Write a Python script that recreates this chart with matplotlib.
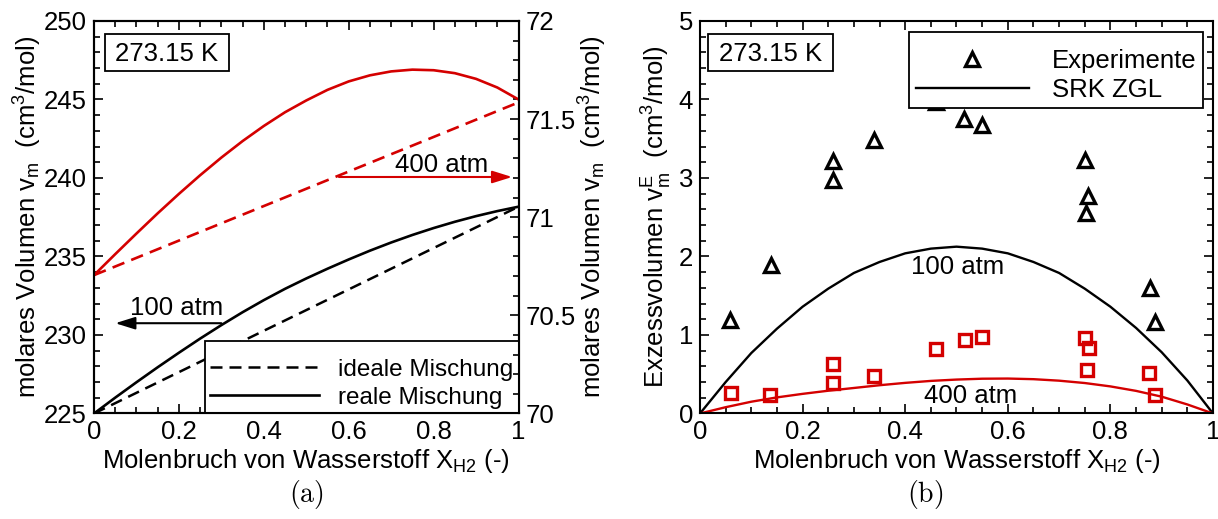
import numpy as np
import matplotlib.pyplot as plt
from matplotlib.ticker import MultipleLocator, FuncFormatter
from matplotlib.patches import Rectangle

plt.rcParams['font.family'] = ['Liberation Sans', 'DejaVu Sans']
plt.rcParams['mathtext.fontset'] = 'custom'
plt.rcParams['mathtext.rm'] = 'Liberation Sans'
plt.rcParams['mathtext.it'] = 'Liberation Sans:italic'
plt.rcParams['font.size'] = 18.5

RED = '#d40000'

# -----------------------------
# Data
# -----------------------------
x_grid = [0, 0.05, 0.1, 0.15, 0.2, 0.25, 0.3, 0.35, 0.4, 0.45, 0.5,
          0.55, 0.6, 0.65, 0.7, 0.75, 0.8, 0.85, 0.9, 0.95, 1.0]

# (a) molar volume, 100 atm (left axis)
x_ideal = [0, 1]
v_ideal_100 = [225.0, 238.17]
v_real_100 = [225.0, 226.01, 226.99, 227.945, 228.87, 229.77, 230.63, 231.45, 232.22, 232.94, 233.60,
              234.22, 234.81, 235.37, 235.89, 236.37, 236.81, 237.21, 237.57, 237.89, 238.17]

# (a) molar volume, 400 atm (right axis)
v_ideal_400 = [70.705, 71.585]
v_real_400 = [70.705, 70.812, 70.917, 71.02, 71.119, 71.214, 71.304, 71.388, 71.465, 71.535, 71.595,
              71.649, 71.692, 71.723, 71.743, 71.752, 71.749, 71.734, 71.705, 71.661, 71.60]

# (b) excess volume, SRK
vE_100 = [0, 0.40, 0.77, 1.08, 1.36, 1.59, 1.79, 1.93, 2.04, 2.10, 2.125,
          2.10, 2.04, 1.93, 1.79, 1.59, 1.36, 1.09, 0.78, 0.42, 0]
vE_400 = [0, 0.08, 0.15, 0.205, 0.25, 0.29, 0.325, 0.36, 0.39, 0.415, 0.432,
          0.443, 0.445, 0.437, 0.418, 0.388, 0.345, 0.288, 0.214, 0.115, 0]

# (b) experiments
exp_x_100 = [0.058, 0.139, 0.259, 0.259, 0.34, 0.46, 0.515, 0.55, 0.751, 0.757, 0.753, 0.877, 0.887]
exp_y_100 = [1.19, 1.89, 3.21, 2.97, 3.49, 3.97, 3.75, 3.67, 3.23, 2.77, 2.56, 1.60, 1.16]
exp_x_400 = [0.06, 0.136, 0.259, 0.259, 0.34, 0.46, 0.516, 0.55, 0.751, 0.758, 0.754, 0.876, 0.887]
exp_y_400 = [0.26, 0.24, 0.63, 0.39, 0.475, 0.82, 0.94, 0.98, 0.96, 0.83, 0.56, 0.52, 0.23]

# -----------------------------
# Plot
# -----------------------------
fmt = FuncFormatter(lambda v, p: f'{v:g}')


def style(ax):
    ax.tick_params(which='both', direction='in', width=1.2, pad=5)
    ax.tick_params(which='major', length=6.5)
    ax.tick_params(which='minor', length=4)
    for s in ax.spines.values():
        s.set_linewidth(1.5)


fig = plt.figure(figsize=(12.18, 5.19), dpi=100)
ax1 = fig.add_axes([0.0772, 0.2033, 0.3485, 0.7563])
ax1r = ax1.twinx()
ax2 = fig.add_axes([0.5747, 0.2033, 0.4212, 0.7563])

# ---- (a)
l_ideal, = ax1.plot(x_ideal, v_ideal_100, color='k', lw=1.8, ls='--', dashes=(4.8, 2.8))
l_real, = ax1.plot(x_grid, v_real_100, color='k', lw=1.9)
ax1r.plot(x_ideal, v_ideal_400, color=RED, lw=1.9, ls='--', dashes=(4.8, 2.8))
ax1r.plot(x_grid, v_real_400, color=RED, lw=1.9)

ax1.set_xlim(0, 1)
ax1.set_ylim(225, 250)
ax1r.set_ylim(70, 72)
ax1.xaxis.set_major_locator(MultipleLocator(0.2))
ax1.xaxis.set_minor_locator(MultipleLocator(0.05))
ax1.yaxis.set_major_locator(MultipleLocator(5))
ax1.yaxis.set_minor_locator(MultipleLocator(1))
ax1r.yaxis.set_major_locator(MultipleLocator(0.5))
ax1r.yaxis.set_minor_locator(MultipleLocator(0.1))
ax1.xaxis.set_major_formatter(fmt)
ax1r.yaxis.set_major_formatter(fmt)
style(ax1)
style(ax1r)
ax1.tick_params(which='both', top=True, right=False)
ax1r.tick_params(which='both', right=True, left=False)

ax1.set_xlabel(r'Molenbruch von Wasserstoff X$_\mathrm{H2}$ (-)', labelpad=2)
ax1.set_ylabel(r'molares Volumen $\mathrm{v}_\mathrm{m}$  (cm$^\mathrm{3}$/mol)', labelpad=0)
ax1r.set_ylabel(r'molares Volumen $\mathrm{v}_\mathrm{m}$  (cm$^\mathrm{3}$/mol)', labelpad=1)

arrow = '-|>,head_length=0.8,head_width=0.25'
ax1.annotate('', xy=(0.05, 230.75), xytext=(0.30, 230.75),
             arrowprops=dict(arrowstyle=arrow, mutation_scale=15, color='k', lw=1.5,
                             shrinkA=0, shrinkB=0))
ax1.text(0.195, 231.27, '100 atm', ha='center', va='baseline')
ax1r.annotate('', xy=(0.985, 71.205), xytext=(0.577, 71.205),
              arrowprops=dict(arrowstyle=arrow, mutation_scale=15, color=RED, lw=1.5,
                              shrinkA=0, shrinkB=0))
ax1r.text(0.82, 71.231, '400 atm', ha='center', va='baseline')

leg1 = ax1.legend([l_ideal, l_real], ['ideale Mischung', 'reale Mischung'],
                  loc='lower right', bbox_to_anchor=(1, 0), borderaxespad=0,
                  fontsize=17.5, title=' ', title_fontsize=6,
                  handlelength=4.5, handletextpad=0.8, borderpad=0.2,
                  labelspacing=0.25, fancybox=False, edgecolor='k', framealpha=1)
leg1.get_frame().set_linewidth(1.3)

ax1.add_patch(Rectangle((0.0259, 0.8726), 0.292, 0.0943, transform=ax1.transAxes,
                        fc='white', ec='k', lw=1.3, zorder=6))
ax1.text(0.172, 0.898, '273.15 K', transform=ax1.transAxes, ha='center',
         va='baseline', zorder=7)

# ---- (b)
ax2.plot(x_grid, vE_100, color='k', lw=1.7, label='SRK ZGL')
ax2.plot(x_grid, vE_400, color=RED, lw=1.7)
ax2.plot(exp_x_100, exp_y_100, ls='none', marker='^', ms=10, mew=2.4, mfc='none',
         mec='k', label='Experimente', clip_on=False)
ax2.plot(exp_x_400, exp_y_400, ls='none', marker='s', ms=8.5, mew=2.4, mfc='none',
         mec=RED, clip_on=False)
ax2.text(0.503, 1.78, '100 atm', ha='center', va='baseline')
ax2.text(0.527, 0.13, '400 atm', ha='center', va='baseline')

ax2.set_xlim(0, 1)
ax2.set_ylim(0, 5)
ax2.xaxis.set_major_locator(MultipleLocator(0.2))
ax2.xaxis.set_minor_locator(MultipleLocator(0.05))
ax2.yaxis.set_major_locator(MultipleLocator(1))
ax2.yaxis.set_minor_locator(MultipleLocator(0.2))
ax2.xaxis.set_major_formatter(fmt)
style(ax2)
ax2.tick_params(which='both', top=True, right=True)
ax2.set_xlabel(r'Molenbruch von Wasserstoff X$_\mathrm{H2}$ (-)', labelpad=2)
ax2.set_ylabel(r'Exzessvolumen $\mathrm{v}_\mathrm{m}^\mathrm{E}$  (cm$^\mathrm{3}$/mol)', labelpad=3)

h, lab = ax2.get_legend_handles_labels()
leg2 = ax2.legend(h[::-1], lab[::-1], loc='upper right', bbox_to_anchor=(0.9805, 0.972),
                  borderaxespad=0, fontsize=18.5, title=' ', title_fontsize=4,
                  handlelength=4.4, handletextpad=0.9, borderpad=0.25,
                  labelspacing=0.2, fancybox=False, edgecolor='k', framealpha=1)
leg2.get_frame().set_linewidth(1.3)
leg2.set_zorder(10)

ax2.add_patch(Rectangle((0.0156, 0.8726), 0.2437, 0.0943, transform=ax2.transAxes,
                        fc='white', ec='k', lw=1.3, zorder=6))
ax2.text(0.1374, 0.898, '273.15 K', transform=ax2.transAxes, ha='center',
         va='baseline', zorder=7)

fig.text(306 / 1218, 0.048, r'$\mathrm{(a)}$', ha='center', va='center',
         fontsize=20, math_fontfamily='cm')
fig.text(925 / 1218, 0.048, r'$\mathrm{(b)}$', ha='center', va='center',
         fontsize=20, math_fontfamily='cm')

fig.savefig('out.png', dpi=100)
